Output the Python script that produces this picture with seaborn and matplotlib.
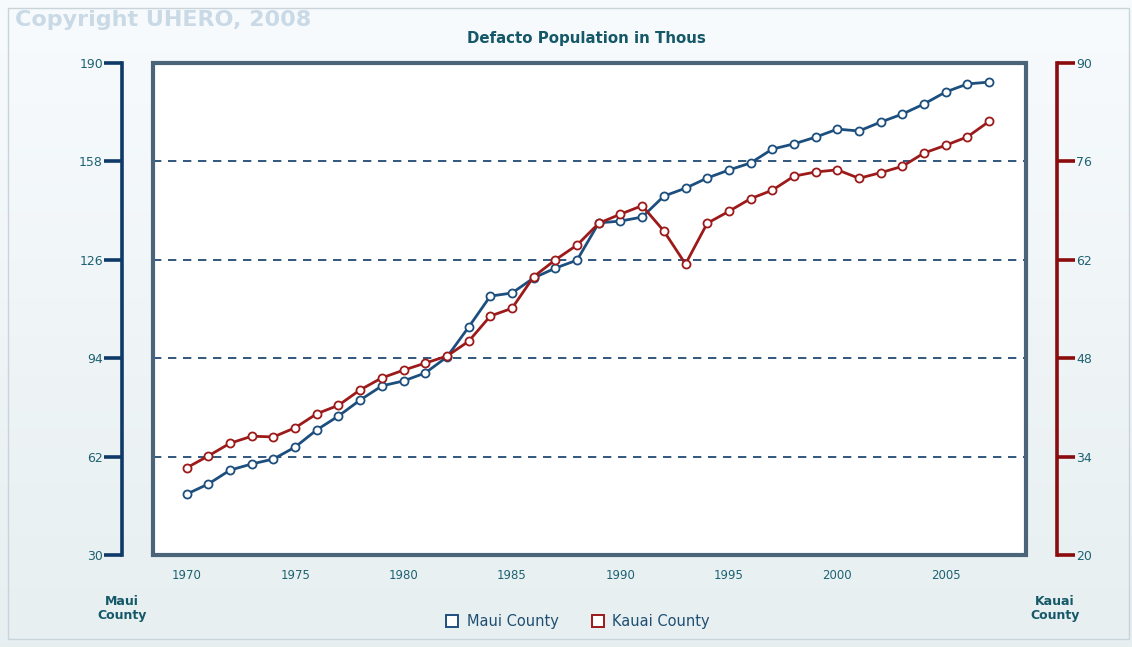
import numpy as np
import pandas as pd
import seaborn as sns
import matplotlib
matplotlib.use('Agg')
import matplotlib.pyplot as plt
from matplotlib.patches import Rectangle
from matplotlib.lines import Line2D

# data
years = list(range(1970, 2008))
maui = [49.8, 53.1, 57.6, 59.6, 61.2, 65.1, 70.7, 75.2, 80.4, 85.0,
        86.6, 89.2, 94.4, 104.1, 114.2, 115.2, 120.1, 123.3, 125.9, 138.0,
        138.6, 139.9, 146.7, 149.3, 152.6, 155.2, 157.5, 162.0, 163.7, 165.9,
        168.5, 167.9, 170.8, 173.4, 176.7, 180.6, 183.2, 183.8]
kauai = [32.4, 34.1, 35.9, 36.9, 36.8, 38.1, 40.1, 41.3, 43.5, 45.2,
         46.3, 47.3, 48.3, 50.4, 54.0, 55.1, 59.6, 62.0, 64.1, 67.2,
         68.5, 69.7, 66.1, 61.4, 67.2, 68.9, 70.7, 71.9, 73.9, 74.5,
         74.8, 73.6, 74.4, 75.3, 77.2, 78.3, 79.5, 81.7]
left_ticks = [30, 62, 94, 126, 158, 190]
right_ticks = [20, 34, 48, 62, 76, 90]
x_ticks = [1970, 1975, 1980, 1985, 1990, 1995, 2000, 2005]

df = pd.DataFrame({'year': years, 'Maui County': maui, 'Kauai County': kauai})

sns.set_style('white')
plt.rcParams['font.family'] = ['DejaVu Sans']

blue = '#1d4f7e'
red = '#9c1a1a'
navy = '#0f3a68'
dred = '#8a0c0c'
teal = '#1e6272'

fig = plt.figure(figsize=(11.32, 6.47), dpi=100)

# background gradient
bg = fig.add_axes([0, 0, 1, 1], zorder=-10)
grad = np.linspace(0, 1, 256).reshape(-1, 1)
c_top = np.array([0.972, 0.984, 0.992])
c_bot = np.array([0.905, 0.937, 0.945])
img = c_top + (c_bot - c_top) * grad[:, :, None]
bg.imshow(img, aspect='auto', extent=[0, 1, 0, 1])
bg.add_patch(Rectangle((0.007, 0.012), 0.99, 0.975, fill=False,
                       edgecolor='#c9d3da', lw=1))
bg.set_xlim(0, 1)
bg.set_ylim(0, 1)
bg.axis('off')

ax = fig.add_axes([0.1352, 0.1422, 0.7712, 0.7604])
ax.set_facecolor('white')
ax2 = ax.twinx()

sns.lineplot(data=df, x='year', y='Maui County', ax=ax, color=blue, lw=2.0,
             marker='o', markersize=5.8, markerfacecolor='white',
             markeredgecolor=blue, markeredgewidth=1.3, zorder=4)
sns.lineplot(data=df, x='year', y='Kauai County', ax=ax2, color=red, lw=2.0,
             marker='o', markersize=5.8, markerfacecolor='white',
             markeredgecolor=red, markeredgewidth=1.3, zorder=4)

ax.set_xlim(1968.45, 2008.7)
ax.set_ylim(30, 190)
ax2.set_ylim(20, 90)

# faint vertical bands in the plot area
for x0, x1 in [(0.0, 0.222), (0.408, 0.593), (0.777, 1.0)]:
    ax.axvspan(x0, x1, transform=ax.transAxes, color='#f5f8fb', lw=0, zorder=0)

for v in left_ticks[1:-1]:
    ax.axhline(v, color=navy, lw=1.2, ls=(0, (5, 4)), zorder=1)

# frame
ax.add_patch(Rectangle((0, 0), 1, 1, transform=ax.transAxes, fill=False,
                       edgecolor='#4c6478', lw=3, clip_on=False, zorder=5))

for a in (ax, ax2):
    a.spines['top'].set_visible(False)
    a.spines['bottom'].set_visible(False)
    a.set_xlabel('')
    a.set_ylabel('')
    a.grid(False)

ax2.spines['left'].set_visible(False)
ax.spines['right'].set_visible(False)

ax.spines['left'].set_position(('outward', 22))
ax.spines['left'].set_color(navy)
ax.spines['left'].set_linewidth(2.6)
ax.set_yticks(left_ticks)
ax.tick_params(axis='y', direction='out', length=13, width=2.6, color=navy,
               labelcolor=teal, labelsize=9, pad=1, left=True)

ax2.spines['right'].set_position(('outward', 22))
ax2.spines['right'].set_color(dred)
ax2.spines['right'].set_linewidth(2.6)
ax2.set_yticks(right_ticks)
ax2.tick_params(axis='y', direction='out', length=13, width=2.6, color=dred,
                labelcolor=teal, labelsize=9, pad=1, right=True)

ax.set_xticks(x_ticks)
ax.tick_params(axis='x', length=0, labelcolor=teal, labelsize=8.5, pad=10)
if ax.legend_:
    ax.legend_.remove()

fig.text(0.013, 0.969, 'Copyright UHERO, 2008', color='#c9d9e6',
         fontsize=16, fontweight='bold', va='center', ha='left')
fig.text(0.518, 0.94, 'Defacto Population in Thous', color='#155868',
         fontsize=10.8, fontweight='bold', ha='center', va='center')
fig.text(0.108, 0.06, 'Maui\nCounty', color='#155868', fontsize=9,
         fontweight='bold', ha='center', va='center', linespacing=1.1)
fig.text(0.932, 0.06, 'Kauai\nCounty', color='#155868', fontsize=9,
         fontweight='bold', ha='center', va='center', linespacing=1.1)

handles = [Line2D([], [], ls='none', marker='s', markersize=8.5,
                  markerfacecolor='white', markeredgecolor=blue, markeredgewidth=1.4),
           Line2D([], [], ls='none', marker='s', markersize=8.5,
                  markerfacecolor='white', markeredgecolor=red, markeredgewidth=1.4)]
leg = fig.legend(handles, ['Maui County', 'Kauai County'], loc='center',
                 bbox_to_anchor=(0.51, 0.04), ncol=2, frameon=False,
                 fontsize=10.5, handletextpad=0.5, columnspacing=2.2,
                 handlelength=1.0)
for t in leg.get_texts():
    t.set_color('#1e4f72')

plt.savefig('out.png', dpi=100)
plt.close()
